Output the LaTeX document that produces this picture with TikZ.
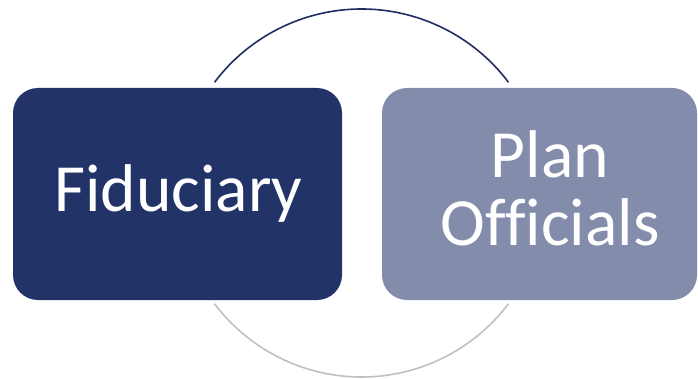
\documentclass[tikz,border=0pt]{standalone}
\usepackage{fontspec}
\setmainfont[Ligatures=NoCommon]{Carlito}
\definecolor{navybox}{RGB}{34,51,104}
\definecolor{slatebox}{RGB}{132,140,171}
\definecolor{navyarc}{RGB}{31,45,96}
\definecolor{greyarc}{RGB}{191,191,198}
\begin{document}
\begin{tikzpicture}[x=1pt,y=1pt,
  card/.style={rectangle, rounded corners=25pt, inner sep=0pt},
  cardtext/.style={text=white, font=\fontsize{67.5}{68}\selectfont, inner sep=0pt, align=center},
  ring/.style={line width=1.6pt}]
\useasboundingbox (0,0) rectangle (698,378);
% cycle ring behind the two cards
\coordinate (hub) at (361.5,185);
\draw[ring, navyarc] ([shift={(37:184)}]hub) arc[start angle=37, end angle=143, radius=184];
\draw[ring, greyarc] ([shift={(217:184)}]hub) arc[start angle=217, end angle=323, radius=184];
% the two cards
\node[card, fill=navybox, minimum width=329pt, minimum height=212pt] (fid) at (177.5,184) {};
\node[card, fill=slatebox, minimum width=315pt, minimum height=212pt] (plan) at (539.5,184) {};
% labels
\node[cardtext, anchor=base] (fidtext) at (178.5,167) {Fiduciary};
\node[cardtext, anchor=center] (plantext) at (550,190) {Plan\\Officials};
\end{tikzpicture}
\end{document}
